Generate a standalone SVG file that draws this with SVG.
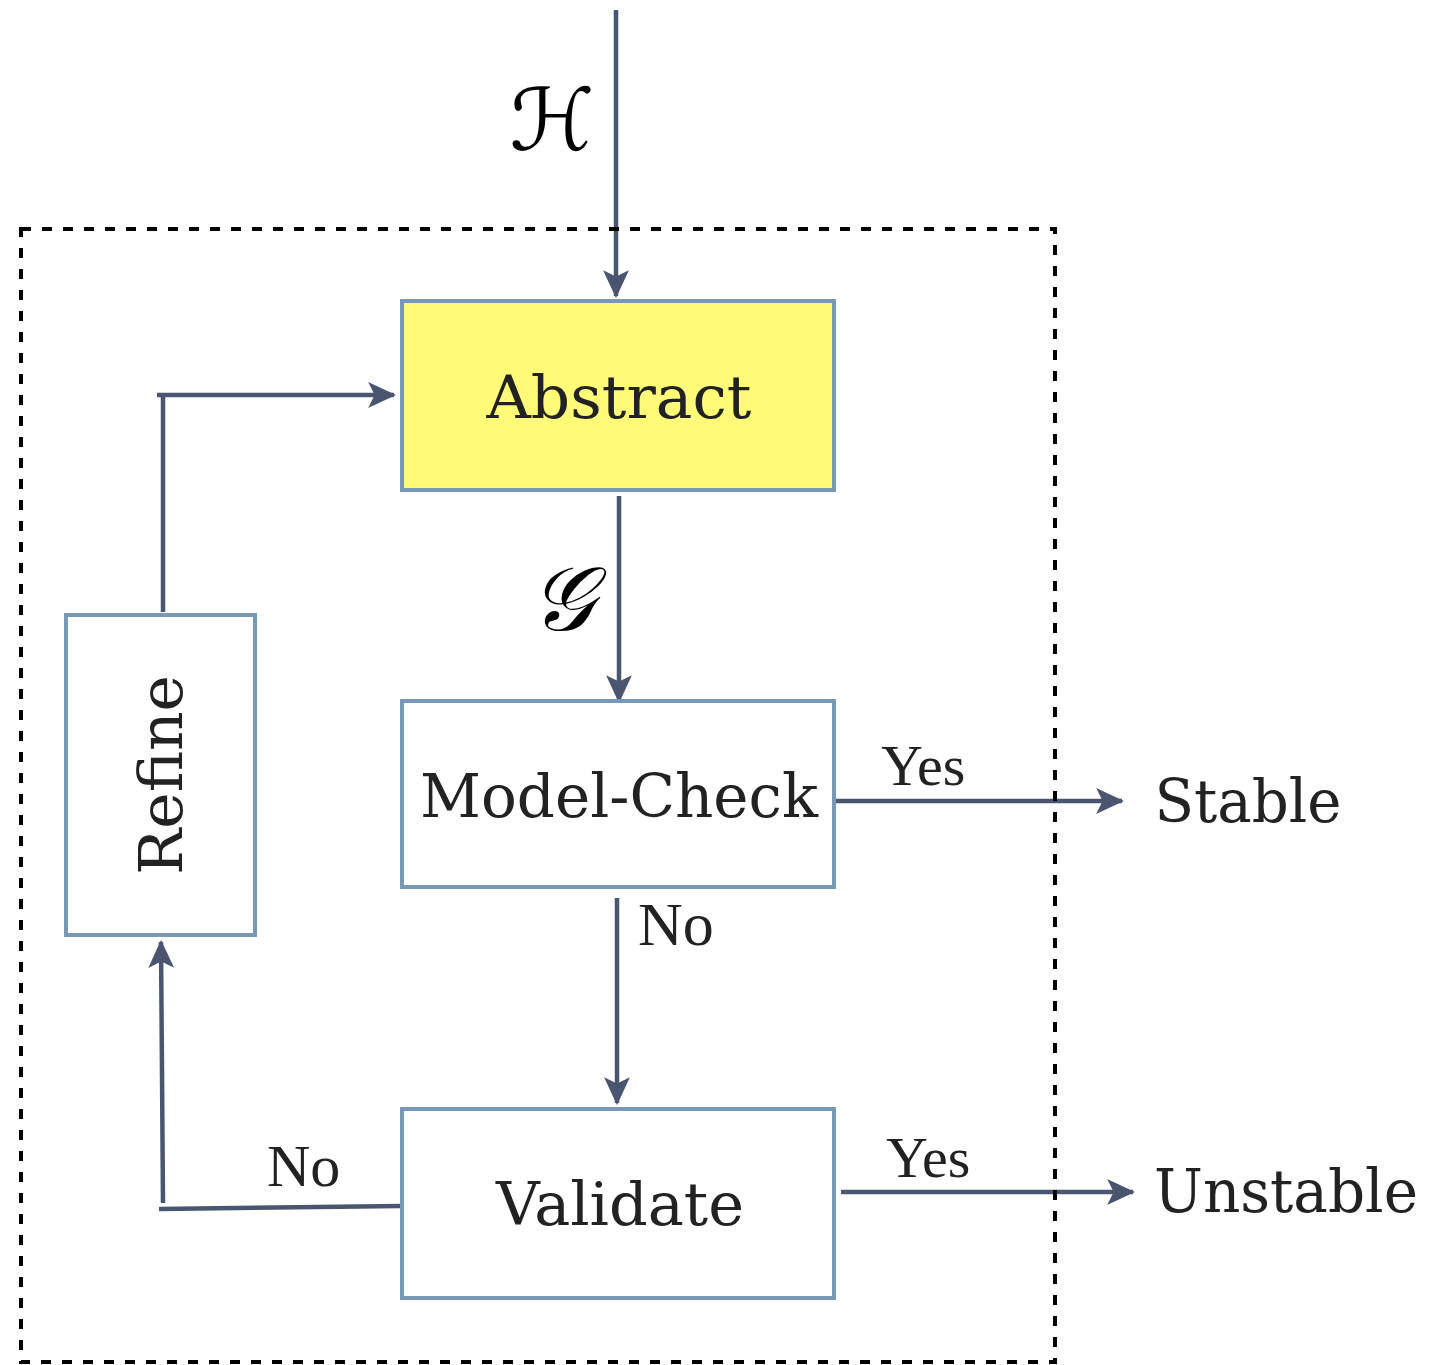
<svg xmlns="http://www.w3.org/2000/svg" width="1430" height="1365" viewBox="0 0 1430 1365">
<defs>
<style>
.box{stroke:#7898b8;stroke-width:4;fill:#fff}
.conn{stroke:#4a5670;stroke-width:4.5;fill:none}
.lbl{font-family:"DejaVu Serif","Liberation Serif",serif;fill:#222;text-anchor:middle}
.yn{font-family:"Liberation Serif","Times New Roman",serif;fill:#222}
.math{font-family:"DejaVu Serif","DejaVu Sans","Noto Sans",serif;font-style:italic;fill:#000;text-anchor:middle}
</style>
<marker id="ah" markerUnits="userSpaceOnUse" markerWidth="28" markerHeight="28" viewBox="0 0 26 26" refX="24" refY="13" orient="auto">
<path d="M0,1 L26,13 L0,25 L6,13 z" fill="#4a5670"/>
</marker>
</defs>
<g id="connectors">
<line class="conn" x1="616" y1="10" x2="616" y2="296" marker-end="url(#ah)"/>
<line class="conn" x1="619" y1="496" x2="619" y2="701" marker-end="url(#ah)"/>
<line class="conn" x1="617" y1="898" x2="617" y2="1103" marker-end="url(#ah)"/>
<line class="conn" x1="830" y1="801" x2="1122" y2="801" marker-end="url(#ah)"/>
<line class="conn" x1="841" y1="1192" x2="1133" y2="1192" marker-end="url(#ah)"/>
<line class="conn" x1="401" y1="1206" x2="159" y2="1209"/>
<line class="conn" x1="163" y1="1203" x2="161" y2="942" marker-end="url(#ah)"/>
<line class="conn" x1="163" y1="612" x2="163" y2="396"/>
<line class="conn" x1="157" y1="395" x2="394" y2="395" marker-end="url(#ah)"/>
<text class="math" x="552" y="150" font-size="86">ℋ</text>
<text class="math" x="562" y="630" font-size="90">𝒢</text>
<text class="yn" x="881" y="785" font-size="58">Yes</text>
<text class="yn" x="638" y="945" font-size="62">No</text>
<text class="yn" x="886" y="1177" font-size="58">Yes</text>
<text class="yn" x="267" y="1186" font-size="60">No</text>
</g>
<rect x="21" y="229" width="1034" height="1133" fill="none" stroke="#000" stroke-width="4" stroke-dasharray="10,11"/>
<g id="abstract">
<rect class="box" x="402" y="301" width="432" height="189" style="fill:#fffb79"/>
<text class="lbl" x="619" y="418" font-size="60" textLength="265" lengthAdjust="spacingAndGlyphs">Abstract</text>
</g>
<g id="model-check">
<rect class="box" x="402" y="701" width="432" height="186"/>
<text class="lbl" x="619" y="817" font-size="60" textLength="398" lengthAdjust="spacingAndGlyphs">Model-Check</text>
</g>
<g id="validate">
<rect class="box" x="402" y="1109" width="432" height="189"/>
<text class="lbl" x="620" y="1225" font-size="60" textLength="248" lengthAdjust="spacingAndGlyphs">Validate</text>
</g>
<g id="refine">
<rect class="box" x="66" y="615" width="189" height="320"/>
<text class="lbl" transform="translate(182,775) rotate(-90)" x="0" y="0" font-size="60" textLength="200" lengthAdjust="spacingAndGlyphs">Refine</text>
</g>
<g id="stable">
<text class="lbl" x="1248" y="822" font-size="60" textLength="187" lengthAdjust="spacingAndGlyphs">Stable</text>
</g>
<g id="unstable">
<text class="lbl" x="1286" y="1212" font-size="60" textLength="264" lengthAdjust="spacingAndGlyphs">Unstable</text>
</g>
</svg>
